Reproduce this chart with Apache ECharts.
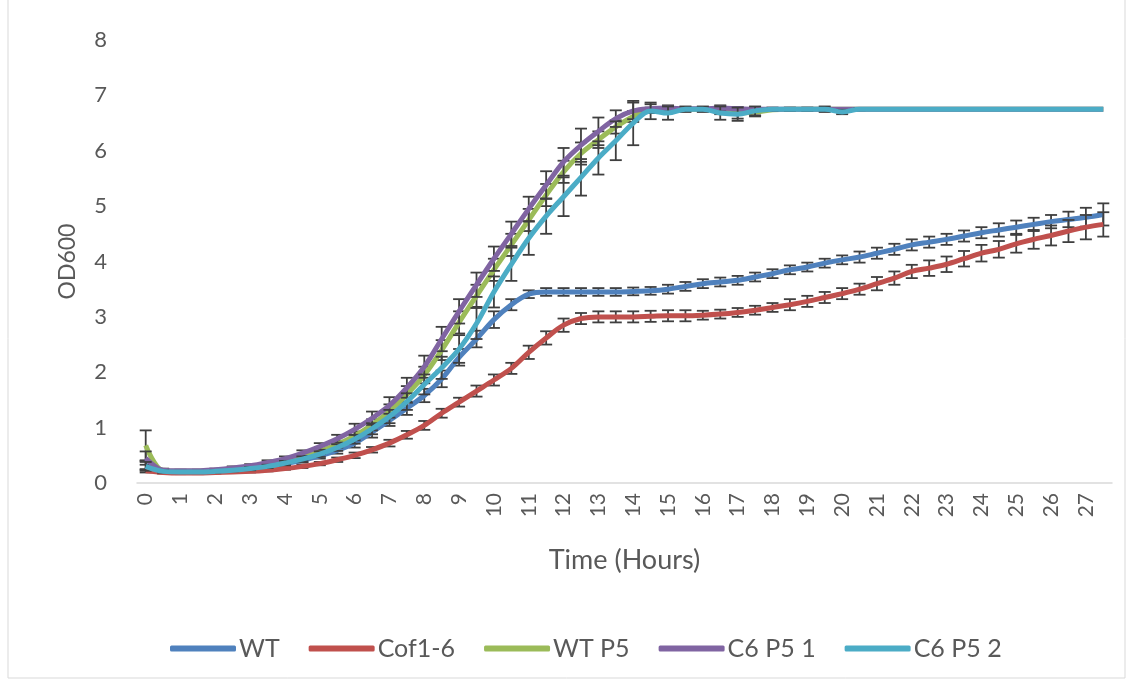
<!DOCTYPE html>
<html>
<head>
<meta charset="utf-8">
<script src="https://cdn.jsdelivr.net/npm/echarts@6/dist/echarts.min.js"></script>
<style>
html,body{margin:0;padding:0;background:#fff;}
#c{width:1143px;height:684px;}
</style>
</head>
<body>
<div id="c"></div>
<script>
// Time points (hours), every half hour
const hours = [];
for (let k = 0; k < 56; k++) hours.push(String(k / 2));

const seriesNames = ['WT', 'Cof1-6', 'WT P5', 'C6 P5 1', 'C6 P5 2'];
const seriesColors = ['#4F81BD', '#C0504D', '#9BBB59', '#8064A2', '#4BACC6'];

const wt = [0.32,0.21,0.20,0.20,0.21,0.23,0.26,0.30,0.35,0.41,
  0.49,0.59,0.72,0.92,1.13,1.35,1.58,1.88,2.27,2.60,
  2.95,3.22,3.41,3.45,3.45,3.45,3.45,3.45,3.46,3.47,
  3.50,3.55,3.60,3.63,3.66,3.72,3.78,3.85,3.90,3.97,
  4.03,4.08,4.15,4.22,4.30,4.35,4.40,4.46,4.52,4.57,
  4.62,4.67,4.72,4.76,4.80,4.85];
const cof = [0.22,0.19,0.18,0.18,0.19,0.20,0.21,0.23,0.26,0.30,
  0.35,0.42,0.50,0.60,0.72,0.87,1.04,1.26,1.46,1.66,
  1.86,2.07,2.36,2.62,2.85,2.97,3.00,3.00,3.00,3.01,
  3.02,3.02,3.03,3.05,3.08,3.12,3.17,3.22,3.28,3.35,
  3.42,3.50,3.60,3.70,3.82,3.88,3.95,4.05,4.15,4.22,
  4.32,4.40,4.47,4.55,4.62,4.67];
const wtp5 = [0.68,0.22,0.21,0.21,0.22,0.25,0.28,0.33,0.39,0.47,
  0.57,0.70,0.85,1.05,1.30,1.60,1.95,2.40,2.90,3.38,
  3.85,4.30,4.75,5.20,5.62,5.95,6.20,6.43,6.62,6.73,
  6.75,6.75,6.75,6.72,6.68,6.70,6.74,6.75,6.75,6.75,
  6.75,6.75,6.75,6.75,6.75,6.75,6.75,6.75,6.75,6.75,
  6.75,6.75,6.75,6.75,6.75,6.75];
const c6p51 = [0.45,0.23,0.22,0.22,0.24,0.27,0.31,0.37,0.44,0.54,
  0.66,0.80,0.97,1.17,1.40,1.72,2.10,2.60,3.10,3.58,
  4.05,4.50,4.95,5.38,5.80,6.10,6.35,6.58,6.72,6.76,
  6.77,6.76,6.76,6.77,6.76,6.75,6.75,6.75,6.75,6.75,
  6.75,6.75,6.75,6.75,6.75,6.75,6.75,6.75,6.75,6.75,
  6.75,6.75,6.75,6.75,6.75,6.75];
const c6p52 = [0.30,0.21,0.20,0.20,0.21,0.23,0.26,0.30,0.36,0.43,
  0.52,0.64,0.79,0.98,1.20,1.47,1.78,2.08,2.42,2.88,
  3.45,3.95,4.42,4.82,5.17,5.52,5.87,6.18,6.50,6.72,
  6.68,6.75,6.75,6.68,6.66,6.72,6.75,6.75,6.75,6.75,
  6.70,6.75,6.75,6.75,6.75,6.75,6.75,6.75,6.75,6.75,
  6.75,6.75,6.75,6.75,6.75,6.75];

// Error bar half-lengths
const wtErr = [0.08,0.02,0.02,0.02,0.02,0.02,0.02,0.02,0.03,0.04,
  0.05,0.06,0.08,0.10,0.10,0.12,0.12,0.15,0.15,0.15,
  0.15,0.10,0.07,0.07,0.07,0.07,0.07,0.07,0.07,0.07,
  0.08,0.08,0.08,0.08,0.08,0.08,0.08,0.08,0.08,0.08,
  0.08,0.10,0.10,0.10,0.10,0.10,0.10,0.10,0.10,0.12,
  0.12,0.12,0.12,0.14,0.17,0.20];
const cofErr = [0.03,0.02,0.02,0.02,0.02,0.02,0.02,0.02,0.02,0.03,
  0.03,0.04,0.05,0.05,0.06,0.07,0.08,0.08,0.08,0.10,
  0.10,0.10,0.12,0.12,0.12,0.10,0.10,0.10,0.10,0.10,
  0.10,0.10,0.08,0.08,0.08,0.08,0.08,0.10,0.10,0.10,
  0.10,0.10,0.12,0.12,0.12,0.14,0.14,0.14,0.15,0.15,
  0.16,0.17,0.18,0.20,0.22,0.22];
const wtp5Err = [0.27,0.03,0.02,0.02,0.02,0.02,0.03,0.03,0.04,0.05,
  0.05,0.06,0.08,0.10,0.12,0.15,0.15,0.18,0.20,0.20,
  0.20,0.20,0.20,0.20,0.20,0.20,0.15,0.12,0.10,0.05,
  0.03,0.02,0.02,0.06,0.10,0.08,0.02,0.02,0.02,0.02,
  0,0,0,0,0,0,0,0,0,0,
  0,0,0,0,0,0];
const c6p51Err = [0.12,0.03,0.02,0.02,0.02,0.03,0.03,0.04,0.04,0.05,
  0.06,0.07,0.10,0.12,0.15,0.18,0.20,0.22,0.22,0.22,
  0.22,0.22,0.22,0.25,0.25,0.30,0.25,0.15,0.15,0.08,
  0.05,0.03,0.03,0.05,0.03,0.02,0.02,0.02,0.02,0.02,
  0,0,0,0,0,0,0,0,0,0,
  0,0,0,0,0,0];
const c6p52Err = [0.08,0.02,0.02,0.02,0.02,0.02,0.03,0.03,0.04,0.05,
  0.05,0.06,0.08,0.10,0.12,0.15,0.18,0.20,0.25,0.28,
  0.28,0.30,0.30,0.32,0.35,0.33,0.30,0.35,0.40,0.15,
  0.12,0.05,0.05,0.12,0.12,0.08,0.03,0.03,0.03,0.05,
  0.04,0.02,0,0,0,0,0,0,0,0,
  0,0,0,0,0,0];

const values = [wt, cof, wtp5, c6p51, c6p52];
const errors = [wtErr, cofErr, wtp5Err, c6p51Err, c6p52Err];

const yTicks = [0, 1, 2, 3, 4, 5, 6, 7, 8];

const FONT = 'Lato';
const TXT = '#595959';

function errItem(params, api) {
  const i = api.value(0), v = api.value(1), e = api.value(2);
  if (!e) return null;
  const top = api.coord([i, v + e]);
  const bot = api.coord([i, v - e]);
  const x = top[0], w = 6;
  const st = { stroke: '#3f3f3f', lineWidth: 1.8 };
  return {
    type: 'group',
    children: [
      { type: 'line', shape: { x1: x, y1: top[1], x2: x, y2: bot[1] }, style: st },
      { type: 'line', shape: { x1: x - w, y1: top[1], x2: x + w, y2: top[1] }, style: st },
      { type: 'line', shape: { x1: x - w, y1: bot[1], x2: x + w, y2: bot[1] }, style: st }
    ]
  };
}

const series = [];
seriesNames.forEach((name, k) => {
  series.push({
    type: 'custom',
    name: name + ' err',
    renderItem: errItem,
    encode: { x: 0, y: 1 },
    data: values[k].map((v, i) => [i, v, errors[k][i]]),
    z: 2 + k * 2,
    silent: true
  });
  series.push({
    type: 'line',
    name: name,
    data: values[k],
    smooth: 0.35,
    symbol: 'none',
    lineStyle: { width: 5, color: seriesColors[k] },
    itemStyle: { color: seriesColors[k] },
    z: 3 + k * 2
  });
});

const chart = echarts.init(document.getElementById('c'));
chart.setOption({
  animation: false,
  backgroundColor: '#fff',
  textStyle: { fontFamily: FONT },
  graphic: [{
    type: 'rect',
    shape: { x: 8, y: -2, width: 1117, height: 680 },
    style: { fill: 'none', stroke: '#d9d9d9', lineWidth: 1 },
    silent: true,
    z: -1
  }],
  grid: { left: 137, right: 31, top: 40, bottom: 201 },
  legend: {
    data: seriesNames,
    left: 165,
    top: 631,
    icon: 'roundRect',
    itemWidth: 66,
    itemHeight: 6,
    itemGap: 29,
    textStyle: { fontFamily: FONT, fontSize: 25, color: TXT, padding: [0, 0, 0, -2] }
  },
  xAxis: {
    type: 'category',
    data: hours,
    boundaryGap: true,
    name: 'Time (Hours)',
    nameLocation: 'middle',
    nameGap: 64,
    nameTextStyle: { fontFamily: FONT, fontSize: 27, color: TXT },
    axisLine: { lineStyle: { color: '#d9d9d9', width: 1.5 } },
    axisTick: { show: false },
    axisLabel: {
      interval: 1,
      rotate: 90,
      margin: 10,
      fontFamily: FONT,
      fontSize: 21,
      color: TXT
    },
    splitLine: { show: false }
  },
  yAxis: {
    type: 'value',
    min: yTicks[0],
    max: yTicks[yTicks.length - 1],
    interval: 1,
    name: 'OD600',
    nameLocation: 'middle',
    nameGap: 58,
    nameTextStyle: { fontFamily: FONT, fontSize: 23, color: TXT },
    axisLine: { show: false },
    axisTick: { show: false },
    splitLine: { show: false },
    axisLabel: { margin: 30, fontFamily: FONT, fontSize: 22, color: TXT }
  },
  series: series
});
</script>
</body>
</html>
